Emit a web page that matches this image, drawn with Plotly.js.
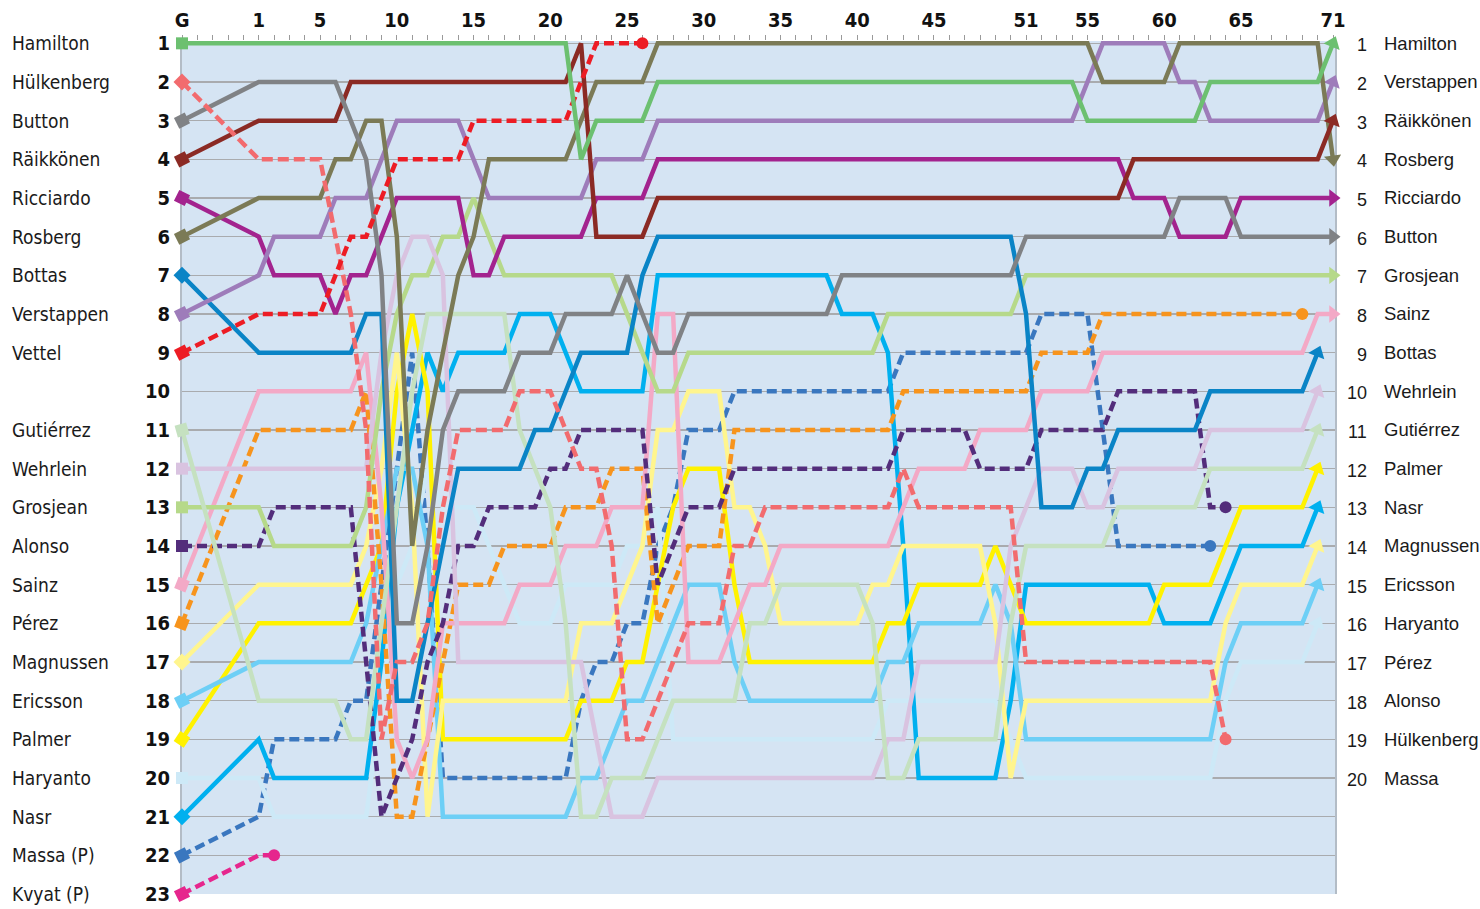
<!DOCTYPE html>
<html>
<head>
<meta charset="utf-8">
<script src="https://cdn.plot.ly/plotly-3.0.1.min.js"></script>
<style>
  html, body { margin: 0; padding: 0; background: #ffffff; }
  #chart { width: 1480px; height: 909px; }
</style>
</head>
<body>
<div id="chart"></div>
<script>
// ---------- DATA (lap, position) – lap 0 = grid "G" ----------
const hamilton   = [[0,1],[21,1],[22,4],[23,3],[26,3],[27,2],[54,2],[55,3],[62,3],[63,2],[70,2],[71,1]];
const hulkenberg = [[0,2],[1,4],[5,4],[6,6],[7,8],[8,11],[9,19],[10,17],[11,17],[12,16],[13,13],[14,11],[17,11],[18,10],[20,10],[21,11],[22,12],[23,12],[24,14],[25,19],[26,19],[27,18],[28,17],[29,16],[31,16],[32,14],[33,14],[34,13],[42,13],[43,12],[44,13],[50,13],[51,17],[63,17],[64,19]];
const button     = [[0,3],[1,2],[6,2],[7,3],[8,4],[9,7],[10,16],[11,16],[12,14],[13,11],[14,10],[17,10],[18,9],[20,9],[21,8],[24,8],[25,7],[26,8],[27,9],[28,9],[29,8],[38,8],[39,7],[50,7],[51,6],[60,6],[61,5],[64,5],[65,6],[71,6]];
const raikkonen  = [[0,4],[1,3],[6,3],[7,2],[21,2],[22,1],[23,6],[26,6],[27,5],[57,5],[58,4],[70,4],[71,3]];
const ricciardo  = [[0,5],[1,6],[2,7],[5,7],[6,8],[7,7],[8,7],[9,6],[10,5],[14,5],[15,7],[16,7],[17,6],[22,6],[23,5],[26,5],[27,4],[57,4],[58,5],[60,5],[61,6],[64,6],[65,5],[71,5]];
const rosberg    = [[0,6],[1,5],[5,5],[6,4],[7,4],[8,3],[9,3],[10,6],[11,14],[12,11],[13,9],[14,7],[15,6],[16,4],[21,4],[22,3],[23,2],[26,2],[27,1],[55,1],[56,2],[60,2],[61,1],[70,1],[71,4]];
const bottas     = [[0,7],[1,9],[7,9],[8,8],[9,8],[10,18],[11,18],[12,16],[13,14],[14,12],[18,12],[19,11],[20,11],[21,10],[22,9],[25,9],[26,7],[27,6],[50,6],[51,8],[52,13],[54,13],[55,12],[56,12],[57,11],[62,11],[63,10],[69,10],[70,9]];
const verstappen = [[0,8],[1,7],[2,6],[5,6],[6,5],[8,5],[9,4],[10,3],[14,3],[15,4],[16,5],[22,5],[23,4],[26,4],[27,3],[54,3],[55,2],[56,1],[60,1],[61,2],[62,2],[63,3],[70,3],[71,2]];
const vettel     = [[0,9],[1,8],[5,8],[6,7],[7,6],[8,6],[9,5],[10,4],[14,4],[15,3],[21,3],[22,2],[23,1],[26,1]];
const gutierrez  = [[0,11],[1,18],[6,18],[7,19],[8,19],[9,16],[10,13],[11,10],[12,8],[17,8],[18,11],[19,12],[20,13],[21,16],[22,21],[23,21],[24,20],[26,20],[27,19],[28,18],[32,18],[33,16],[34,16],[35,15],[40,15],[41,16],[42,20],[43,20],[44,19],[49,19],[50,16],[51,14],[56,14],[57,13],[62,13],[63,12],[69,12],[70,11]];
const wehrlein   = [[0,12],[8,12],[9,9],[10,7],[11,6],[12,6],[13,7],[14,17],[22,17],[23,19],[24,21],[26,21],[27,20],[41,20],[42,19],[43,19],[44,17],[49,17],[50,14],[51,13],[52,12],[54,12],[55,13],[56,13],[57,12],[62,12],[63,11],[69,11],[70,10]];
const grosjean   = [[0,13],[1,13],[2,14],[7,14],[8,13],[9,10],[10,8],[11,7],[12,7],[13,6],[14,6],[15,5],[16,6],[17,7],[24,7],[25,8],[26,9],[27,10],[28,10],[29,9],[41,9],[42,8],[50,8],[51,7],[71,7]];
const alonso     = [[0,14],[1,14],[2,13],[7,13],[8,17],[9,21],[10,20],[11,19],[12,17],[13,16],[14,14],[15,14],[16,13],[19,13],[20,12],[21,12],[22,11],[26,11],[27,15],[28,14],[29,13],[31,13],[32,12],[42,12],[43,11],[47,11],[48,12],[51,12],[52,11],[56,11],[57,10],[62,10],[63,13],[64,13]];
const sainz      = [[0,15],[1,10],[7,10],[8,9],[9,13],[10,19],[11,20],[12,19],[13,16],[17,16],[18,15],[20,15],[21,14],[23,14],[24,13],[26,13],[27,8],[28,8],[29,17],[31,17],[32,16],[33,15],[34,15],[35,14],[42,14],[43,13],[44,12],[47,12],[48,11],[51,11],[52,10],[55,10],[56,9],[69,9],[70,8],[71,8]];
const perez      = [[0,16],[1,11],[7,11],[8,10],[9,15],[10,21],[11,21],[12,19],[13,17],[14,15],[16,15],[17,14],[20,14],[21,13],[23,13],[24,12],[26,12],[27,16],[28,15],[29,14],[31,14],[32,11],[42,11],[43,10],[51,10],[52,9],[55,9],[56,8],[69,8]];
const magnussen  = [[0,17],[1,15],[7,15],[8,14],[9,12],[10,9],[11,13],[12,21],[13,18],[21,18],[22,16],[24,16],[25,15],[26,14],[27,11],[28,11],[29,10],[31,10],[32,13],[33,13],[34,14],[35,16],[40,16],[41,15],[42,15],[43,14],[48,14],[49,16],[50,20],[51,18],[63,18],[64,16],[65,15],[69,15],[70,14]];
const ericsson   = [[0,18],[1,17],[7,17],[8,16],[9,14],[10,12],[11,12],[12,14],[13,21],[21,21],[22,20],[23,20],[24,19],[25,18],[26,18],[27,17],[28,16],[29,15],[31,15],[32,17],[33,18],[41,18],[42,17],[43,17],[44,16],[48,16],[49,15],[50,16],[51,19],[63,19],[64,17],[65,16],[69,16],[70,15]];
const palmer     = [[0,19],[1,16],[7,16],[8,15],[9,14],[10,10],[11,8],[12,10],[13,19],[21,19],[22,18],[24,18],[25,17],[26,17],[27,15],[28,13],[29,12],[31,12],[32,15],[33,17],[41,17],[42,16],[43,16],[44,15],[48,15],[49,14],[50,15],[51,16],[59,16],[60,15],[63,15],[64,14],[65,13],[69,13],[70,12]];
const haryanto   = [[0,20],[1,20],[2,21],[8,21],[9,18],[10,15],[11,14],[12,12],[13,13],[15,13],[16,14],[17,15],[18,16],[20,16],[21,15],[24,15],[25,14],[26,14],[27,13],[28,19],[41,19],[42,18],[49,18],[50,19],[51,20],[63,20],[64,18],[65,17],[69,17],[70,16]];
const nasr       = [[0,21],[1,19],[2,20],[8,20],[9,17],[10,13],[11,11],[12,9],[13,10],[14,9],[17,9],[18,8],[20,8],[21,9],[22,10],[26,10],[27,7],[38,7],[39,8],[41,8],[42,9],[43,14],[44,20],[49,20],[50,18],[51,15],[59,15],[60,16],[63,16],[64,15],[65,14],[69,14],[70,13]];
const massa      = [[0,22],[1,21],[2,19],[6,19],[7,18],[8,18],[9,15],[10,12],[11,9],[12,14],[13,20],[21,20],[22,18],[23,17],[24,17],[25,16],[26,16],[27,14],[28,13],[29,11],[31,11],[32,10],[42,10],[43,9],[51,9],[52,8],[55,8],[56,11],[57,14],[63,14]];
const kvyat      = [[0,23],[1,22],[2,22]];

const gridNames  = ["Hamilton","Hülkenberg","Button","Räikkönen","Ricciardo","Rosberg","Bottas","Verstappen","Vettel","","Gutiérrez","Wehrlein","Grosjean","Alonso","Sainz","Pérez","Magnussen","Ericsson","Palmer","Haryanto","Nasr","Massa (P)","Kvyat (P)"];
const finalNames = ["Hamilton","Verstappen","Räikkönen","Rosberg","Ricciardo","Button","Grosjean","Sainz","Bottas","Wehrlein","Gutiérrez","Palmer","Nasr","Magnussen","Ericsson","Haryanto","Pérez","Alonso","Hülkenberg","Massa"];
const lapTickLaps  = [0,1,5,10,15,20,25,30,35,40,45,51,55,60,65,71];
const lapTickText  = ["G","1","5","10","15","20","25","30","35","40","45","51","55","60","65","71"];

// ---------- STYLE ----------
const drivers = [
  {d: kvyat,      c:"#e6268d", dash:"10px,5px", end:"dot"},
  {d: massa,      c:"#3a77bf", dash:"10px,5px", end:"dot"},
  {d: haryanto,   c:"#cde9f7", dash:"solid",    end:"arrow"},
  {d: nasr,       c:"#00b0ef", dash:"solid",    end:"arrow"},
  {d: palmer,     c:"#fff200", dash:"solid",    end:"arrow"},
  {d: ericsson,   c:"#6dcff6", dash:"solid",    end:"arrow"},
  {d: magnussen,  c:"#fff58e", dash:"solid",    end:"arrow"},
  {d: perez,      c:"#f7941d", dash:"10px,5px", end:"dot"},
  {d: sainz,      c:"#f3a9c6", dash:"solid",    end:"arrow"},
  {d: alonso,     c:"#532d7b", dash:"10px,5px", end:"dot"},
  {d: grosjean,   c:"#b6d98a", dash:"solid",    end:"arrow"},
  {d: wehrlein,   c:"#d9c3e0", dash:"solid",    end:"arrow"},
  {d: gutierrez,  c:"#c5e1c0", dash:"solid",    end:"arrow"},
  {d: bottas,     c:"#0a84c6", dash:"solid",    end:"arrow"},
  {d: ricciardo,  c:"#a3238e", dash:"solid",    end:"arrow"},
  {d: verstappen, c:"#9e7cba", dash:"solid",    end:"arrow"},
  {d: rosberg,    c:"#7b7a56", dash:"solid",    end:"arrow"},
  {d: raikkonen,  c:"#8b2a24", dash:"solid",    end:"arrow"},
  {d: button,     c:"#808285", dash:"solid",    end:"arrow"},
  {d: hulkenberg, c:"#f26b6e", dash:"11px,5px", end:"dot"},
  {d: vettel,     c:"#ed1c24", dash:"10px,5px", end:"dot"},
  {d: hamilton,   c:"#6cc070", dash:"solid",    end:"arrow"}
];

const W = 1480, H = 909;
const M = {l:182, r:145, t:41, b:15};
const XR = [-4, 71.13], YR = [23, 0.94];
const PXX = (W - M.l - M.r) / (XR[1] - XR[0]);
const PXY = (H - M.t - M.b) / (YR[0] - YR[1]);
const GX = -4; // where the grid column "G" sits on the lap axis
const toX = l => (l === 0 ? GX : l);

function bearing(x1, y1, x2, y2) {
  const dx = (x2 - x1) * PXX, dy = (y2 - y1) * PXY;
  return Math.atan2(dx, -dy) * 180 / Math.PI;
}

const traces = drivers.map(o => {
  const xs = o.d.map(p => toX(p[0]));
  const ys = o.d.map(p => p[1]);
  const n = xs.length;
  const sym = [], size = [], ang = [];
  for (let i = 0; i < n; i++) { sym.push("circle"); size.push(0); ang.push(0); }
  sym[0] = "square"; size[0] = 12; ang[0] = bearing(xs[0], ys[0], xs[1], ys[1]);
  if (o.end === "arrow") {
    sym[n-1] = "triangle-up"; size[n-1] = 15; ang[n-1] = bearing(xs[n-2], ys[n-2], xs[n-1], ys[n-1]);
  } else {
    sym[n-1] = "circle"; size[n-1] = 12;
  }
  return {
    type: "scatter", mode: "lines+markers", x: xs, y: ys,
    line: {color: o.c, width: 4.5, dash: o.dash},
    marker: {color: o.c, symbol: sym, size: size, angle: ang, opacity: 1, line: {width: 0}},
    hoverinfo: "skip", showlegend: false, cliponaxis: false
  };
});

const allLaps = [];
for (let l = -4; l <= 71; l++) allLaps.push(l);
const allText = allLaps.map(l => {
  const i = lapTickLaps.map(toX).indexOf(l);
  return i >= 0 ? lapTickText[i] : "";
});

const posVals = [];
for (let p = 1; p <= 23; p++) posVals.push(p);

const cond = "DejaVu Sans Condensed, Liberation Sans Narrow, sans-serif";
const plain = "Liberation Sans, Arial, sans-serif";
const PW = W - M.l - M.r;
const annotations = [];
gridNames.forEach((nm, i) => {
  if (!nm) return;
  annotations.push({xref:"paper", yref:"y", x: (10 - M.l) / PW, y: i + 1, text: nm,
    showarrow:false, xanchor:"left", yanchor:"middle", font:{family: cond, size: 19, color:"#1a1a1a"}});
});
finalNames.forEach((nm, i) => {
  annotations.push({xref:"paper", yref:"y", x: (1369 - M.l) / PW, y: i + 1, yshift:-2, text: String(i + 1),
    showarrow:false, xanchor:"right", yanchor:"middle", font:{family: plain, size: 18, color:"#1a1a1a"}});
  annotations.push({xref:"paper", yref:"y", x: (1382 - M.l) / PW, y: i + 1, text: nm,
    showarrow:false, xanchor:"left", yanchor:"middle", font:{family: plain, size: 18.5, color:"#1a1a1a"}});
});

const layout = {
  width: W, height: H, margin: M,
  paper_bgcolor: "#ffffff", plot_bgcolor: "#d5e4f3",
  showlegend: false,
  xaxis: {range: XR, side: "top", tickmode: "array", tickvals: allLaps, ticktext: allText,
          ticks: "outside", ticklen: 5, tickwidth: 1, tickcolor: "#9a9a9a", layer: "below traces",
          showgrid: false, zeroline: false, showline: false, fixedrange: true,
          tickfont: {family: cond, size: 20, color: "#111111", weight: "bold"}},
  yaxis: {range: YR, tickmode: "array", tickvals: posVals, ticktext: posVals.map(String),
          ticks: "", ticklabelstandoff: 6, showgrid: true, gridcolor: "#a9abae", gridwidth: 1.5, zeroline: false,
          showline: true, linecolor: "#b3bcc6", linewidth: 2, mirror: true, fixedrange: true, layer: "below traces",
          tickfont: {family: cond, size: 20, color: "#111111", weight: "bold"}},
  annotations: annotations
};

Plotly.newPlot("chart", traces, layout, {staticPlot: true, displayModeBar: false});
</script>
</body>
</html>
